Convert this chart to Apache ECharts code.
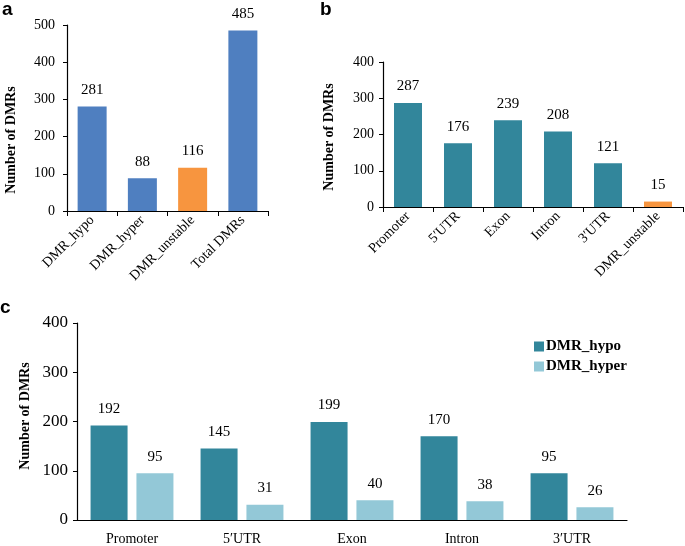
<!DOCTYPE html>
<html>
<head>
<meta charset="utf-8">
<script src="https://cdn.jsdelivr.net/npm/echarts@6/dist/echarts.min.js"></script>
<style>html,body{margin:0;padding:0;background:#fff;}#c{width:685px;height:546px;}</style>
</head>
<body>
<div id="c"></div>
<script>
// Panel a
var catsA = ['DMR_hypo', 'DMR_hyper', 'DMR_unstable', 'Total DMRs'];
var valsA = [281, 88, 116, 485];
var ticksA = [0, 100, 200, 300, 400, 500];
// Panel b
var catsB = ['Promoter', "5\u2032UTR", 'Exon', 'Intron', "3\u2032UTR", 'DMR_unstable'];
var valsB = [287, 176, 239, 208, 121, 15];
var ticksB = [0, 100, 200, 300, 400];
// Panel c
var catsC = ['Promoter', "5\u2032UTR", 'Exon', 'Intron', "3\u2032UTR"];
var hypoC = [192, 145, 199, 170, 95];
var hyperC = [95, 31, 40, 38, 26];
var ticksC = [0, 100, 200, 300, 400];

var SERIF = '"Liberation Serif","Times New Roman",serif';
var BLUE = '#4f7fc0', ORANGE = '#f7953f', TEAL = '#32869b', LIGHT = '#93c8d7';

function colorsA(i) { return catsA[i] === 'DMR_unstable' ? ORANGE : BLUE; }
function colorsB(i) { return catsB[i] === 'DMR_unstable' ? ORANGE : TEAL; }

function yAx(grid, ticks, fs, margin) {
  return {
    type: 'value', gridIndex: grid, min: ticks[0], max: ticks[ticks.length - 1],
    interval: ticks[1] - ticks[0],
    axisLine: {show: true, lineStyle: {color: '#000', width: 1.2}},
    axisTick: {show: true, length: 4, lineStyle: {color: '#000'}},
    splitLine: {show: false},
    axisLabel: {fontFamily: SERIF, fontSize: fs, color: '#000', margin: margin}
  };
}
function xAx(grid, cats, rotate, ticks, fs, margin) {
  return {
    type: 'category', gridIndex: grid, data: cats,
    axisLine: {lineStyle: {color: '#000', width: 1.2}},
    axisTick: {show: ticks, length: 5, lineStyle: {color: '#000'}},
    axisLabel: {rotate: rotate, fontFamily: SERIF, fontSize: fs, color: '#000', margin: margin, interval: 0}
  };
}
var valLabel = {show: true, position: 'top', distance: 9, fontFamily: SERIF, fontSize: 15, color: '#000'};

function yName(x, y, text) {
  return {
    type: 'text', x: x, y: y, rotation: Math.PI / 2,
    style: {text: text, textAlign: 'center', textVerticalAlign: 'middle',
      font: 'bold 14px "Liberation Serif"', fill: '#000'}
  };
}
function letter(x, y, t) {
  return {type: 'text', x: x, y: y, style: {text: t, font: 'bold 19px "Liberation Sans"', fill: '#000'}};
}

var chart = echarts.init(document.getElementById('c'), null, {renderer: 'canvas'});
chart.setOption({
  backgroundColor: '#fff',
  animation: false,
  grid: [
    {left: 67, top: 25, width: 201, height: 186},
    {left: 383, top: 62, width: 300, height: 145},
    {left: 77, top: 323, width: 550, height: 199}
  ],
  xAxis: [
    xAx(0, catsA, 45, true, 14, 7),
    xAx(1, catsB, 45, true, 14, 7),
    xAx(2, catsC, 0, false, 14, 12)
  ],
  yAxis: [
    yAx(0, ticksA, 14, 12),
    yAx(1, ticksB, 14, 9),
    yAx(2, ticksC, 17, 9)
  ],
  legend: {
    data: ['DMR_hypo', 'DMR_hyper'], orient: 'vertical', left: 529, top: 334,
    itemWidth: 10, itemHeight: 10, itemGap: 5, icon: 'rect',
    textStyle: {fontFamily: SERIF, fontWeight: 'bold', fontSize: 15, color: '#000', padding: [0, 0, 0, -3]}
  },
  series: [
    {type: 'bar', xAxisIndex: 0, yAxisIndex: 0, barWidth: 29,
      data: valsA.map(function (v, i) { return {value: v, itemStyle: {color: colorsA(i)}}; }),
      label: valLabel},
    {type: 'bar', xAxisIndex: 1, yAxisIndex: 1, barWidth: 28,
      data: valsB.map(function (v, i) { return {value: v, itemStyle: {color: colorsB(i)}}; }),
      label: valLabel},
    {name: 'DMR_hypo', type: 'bar', xAxisIndex: 2, yAxisIndex: 2, barWidth: 37, barGap: '24%',
      itemStyle: {color: TEAL}, data: hypoC, label: valLabel},
    {name: 'DMR_hyper', type: 'bar', xAxisIndex: 2, yAxisIndex: 2, barWidth: 37, barGap: '24%',
      itemStyle: {color: LIGHT}, data: hyperC, label: valLabel}
  ],
  graphic: [
    yName(11, 140, 'Number of DMRs'),
    yName(329, 137, 'Number of DMRs'),
    yName(25, 416, 'Number of DMRs'),
    letter(2, 0, 'a'),
    letter(320, 0, 'b'),
    letter(0, 298, 'c')
  ]
});
</script>
</body>
</html>
